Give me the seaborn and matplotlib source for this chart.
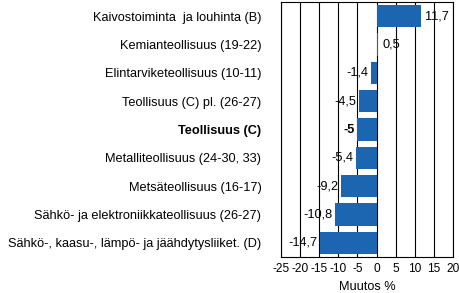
import matplotlib
matplotlib.use("Agg")
import matplotlib.pyplot as plt
import seaborn as sns
import pandas as pd

categories = [
    "Kaivostoiminta  ja louhinta (B)",
    "Kemianteollisuus (19-22)",
    "Elintarviketeollisuus (10-11)",
    "Teollisuus (C) pl. (26-27)",
    "Teollisuus (C)",
    "Metalliteollisuus (24-30, 33)",
    "Metsäteollisuus (16-17)",
    "Sähkö- ja elektroniikkateollisuus (26-27)",
    "Sähkö-, kaasu-, lämpö- ja jäähdytysliiket. (D)",
]
values = [11.7, 0.5, -1.4, -4.5, -5.0, -5.4, -9.2, -10.8, -14.7]
value_labels = ["11,7", "0,5", "-1,4", "-4,5", "-5", "-5,4", "-9,2", "-10,8", "-14,7"]
xticks = [-25, -20, -15, -10, -5, 0, 5, 10, 15, 20]
bold_category = "Teollisuus (C)"

sns.set_theme(style="white")
plt.rcParams["font.family"] = ["Liberation Sans", "DejaVu Sans"]
plt.rcParams["text.color"] = "black"
plt.rcParams["axes.labelcolor"] = "black"
plt.rcParams["xtick.color"] = "black"
plt.rcParams["ytick.color"] = "black"

df = pd.DataFrame({"cat": categories, "val": values})

fs = 9.2

fig = plt.figure(figsize=(4.59, 2.93), dpi=100)
ax = fig.add_axes([0.612, 0.123, 0.375, 0.870])

for x in xticks:
    ax.axvline(x, color="black", lw=0.8, zorder=0)

sns.barplot(data=df, x="val", y="cat", orient="h", color="#1C65B0",
            saturation=1, width=0.79, linewidth=0, ax=ax, zorder=2)

ax.set_xlim(-25, 20)
ax.set_xticks(xticks)
ax.set_xticklabels([str(t) for t in xticks], fontsize=8.6)
ax.set_xlabel("Muutos %", fontsize=fs, labelpad=5)
ax.set_ylabel("")
ax.tick_params(axis="both", length=0)
ax.tick_params(axis="y", pad=14, labelsize=fs)
ax.tick_params(axis="x", pad=4)

for lbl in ax.get_yticklabels():
    if lbl.get_text() == bold_category:
        lbl.set_fontweight("bold")

for i, (v, t) in enumerate(zip(values, value_labels)):
    w = "bold" if categories[i] == bold_category else "normal"
    if v >= 0:
        ax.annotate(t, (v, i), xytext=(3, 0), textcoords="offset points",
                    ha="left", va="center", fontsize=fs, fontweight=w)
    else:
        ax.annotate(t, (v, i), xytext=(-2, 0), textcoords="offset points",
                    ha="right", va="center", fontsize=fs, fontweight=w)

for s in ax.spines.values():
    s.set_visible(True)
    s.set_color("black")
    s.set_linewidth(0.8)

fig.savefig("out.png", dpi=100)
